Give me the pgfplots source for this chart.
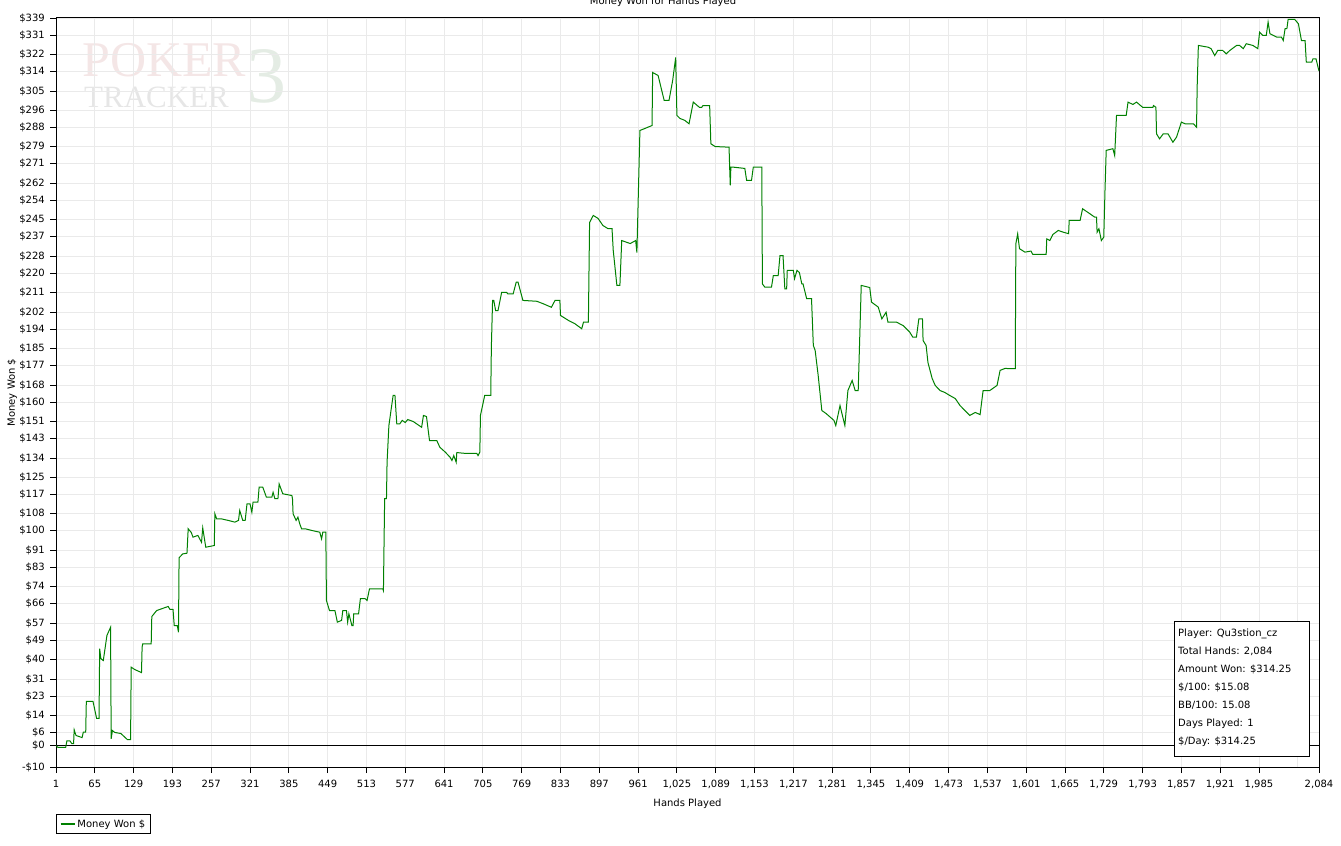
\documentclass[border=0pt]{standalone}
\usepackage{fontspec}
\setmainfont{DejaVu Sans}
\newfontfamily\wmfont{Liberation Serif}
\usepackage{pgfplots}
\pgfplotsset{compat=1.18}
\definecolor{moneygreen}{RGB}{0,128,0}
\definecolor{gridgrey}{RGB}{234,234,234}
\definecolor{wmpink}{RGB}{244,230,230}
\definecolor{wmgrey}{RGB}{230,230,230}
\definecolor{wmgreen}{RGB}{228,236,228}

\begin{document}
\begin{tikzpicture}[x=1bp,y=1bp,font=\fontsize{10bp}{12bp}\selectfont]
\useasboundingbox (0,0) rectangle (1341,845);

% watermark behind the plot
\node[anchor=base west, inner sep=0pt, text=wmgreen, font=\wmfont\fontsize{80bp}{80bp}\selectfont] at (246,742) {3};
\node[anchor=base west, inner sep=0pt, text height=34bp, text depth=0bp, text=wmpink, font=\wmfont\fontsize{50bp}{50bp}\selectfont] at (82,768) {POKER};
\node[anchor=base west, inner sep=0pt, text height=21bp, text depth=0bp, text=wmgrey, font=\wmfont\fontsize{31bp}{31bp}\selectfont] at (84,737) {TRACKER};

% title, cut at the top edge as in the original
\node[anchor=base] at (663,840) {Money Won for Hands Played};

\begin{axis}[
  at={(56bp,78bp)}, anchor=south west,
  scale only axis, width=1263bp, height=749bp,
  xmin=1, xmax=2084, ymin=-10, ymax=339,
  axis line style={black, line width=1bp},
  tick align=outside, tick pos=left, major tick length=6bp,
  tick style={black, line width=0.9bp},
  grid=major, major grid style={gridgrey, line width=0.9bp},
  xtick={1,65,129,193,257,321,385,449,513,577,641,705,769,833,897,961,1025,1089,1153,1217,1281,1345,1409,1473,1537,1601,1665,1729,1793,1857,1921,1985,2084},
  xticklabels={1,65,129,193,257,321,385,449,513,577,641,705,769,833,897,961,{1,025},{1,089},{1,153},{1,217},{1,281},{1,345},{1,409},{1,473},{1,537},{1,601},{1,665},{1,729},{1,793},{1,857},{1,921},{1,985},{2,084}},
  extra x ticks={2049}, extra x tick labels={},
  extra x tick style={major tick length=0pt, grid=major},
  ytick={-10,0,6,14,23,31,40,49,57,66,74,83,91,100,108,117,125,134,143,151,160,168,177,185,194,202,211,220,228,237,245,254,262,271,279,288,296,305,314,322,331,339},
  yticklabels={-\$10,\$0,\$6,\$14,\$23,\$31,\$40,\$49,\$57,\$66,\$74,\$83,\$91,\$100,\$108,\$117,\$125,\$134,\$143,\$151,\$160,\$168,\$177,\$185,\$194,\$202,\$211,\$220,\$228,\$237,\$245,\$254,\$262,\$271,\$279,\$288,\$296,\$305,\$314,\$322,\$331,\$339},
  xticklabel style={inner sep=0pt, yshift=-7bp},
  yticklabel style={inner sep=0pt, xshift=-5bp},
  xlabel={Hands Played},
  xlabel style={at={(axis description cs:0.5,0)}, anchor=center, yshift=-37bp},
  ylabel={Money Won \$},
  ylabel style={at={(axis description cs:-0.0348,0.5)}, anchor=center},
  legend style={at={(axis description cs:0,0)}, anchor=north west, yshift=-47bp,
    draw=black, line width=1bp, inner sep=3bp,
    font=\fontsize{10bp}{12bp}\selectfont},
  legend cell align=left,
  legend image code/.code={\draw[#1, line width=2bp] (0bp,0bp) -- (14bp,0bp);},
]
\draw[black, line width=1bp] (axis cs:1,0) -- (axis cs:2084,0);

\addplot[moneygreen, line width=1bp] coordinates {
(1,0) (4,-0.8) (17,-0.8) (19,2.2) (24,2.2) (27,0.9) (30,0.9) (31,7.3) (34,4.7) (44,3.7)
(46,6.2) (50,6.2) (51,20.6) (62,20.6) (68,12.6) (72,12.6) (73,45.1) (75,40.5) (79,39.6) (85,51.3)
(91,55.1) (92,3.1) (94,7.0) (98,6.1) (108,5.6) (119,2.7) (124,2.7) (125,36.5) (131,35.4) (142,34.0)
(143,45.8) (144,47.4) (158,47.4) (159,60.1) (167,62.9) (186,64.8) (189,63.4) (194,63.4) (196,55.9) (201,55.9)
(203,52.8) (204,87.5) (210,89.3) (217,89.6) (219,101.0) (224,99.3) (227,97.1) (235,97.9) (241,94.7) (243,101.4)
(248,92.4) (262,93.2) (263,108.0) (266,105.6) (274,105.6) (285,104.9) (296,104.1) (302,104.9) (304,109.5) (309,104.9)
(313,104.9) (316,112.6) (321,112.6) (324,108.7) (326,113.4) (334,113.4) (336,120.4) (342,120.4) (348,115.7) (357,115.7)
(359,118.0) (362,115.0) (367,115.0) (369,121.9) (375,117.3) (390,116.5) (391,115.0) (392,108.0) (397,104.9) (400,106.4)
(403,103.3) (406,101.0) (412,101.0) (423,100.2) (436,99.4) (439,96.3) (441,99.4) (446,99.4) (447,67.6) (452,62.9)
(461,62.9) (465,57.5) (472,58.3) (474,62.9) (480,62.9) (482,57.5) (484,61.4) (489,55.9) (491,55.9) (492,61.4)
(500,61.4) (503,68.4) (511,68.4) (514,67.6) (518,73.0) (540,73.0) (541,72.2) (542,94.0) (543,115.0) (546,115.0)
(547,132.0) (550,149.1) (555,159.2) (557,163.1) (560,163.1) (563,149.9) (568,149.9) (572,151.5) (577,150.5) (581,151.9)
(590,151.0) (604,148.3) (607,153.8) (612,153.3) (617,142.1) (629,142.1) (634,139.0) (643,136.7) (651,134.3) (654,132.8)
(657,135.1) (661,132.0) (662,136.5) (677,136.1) (695,136.1) (697,135.1) (700,136.7) (701,153.8) (708,163.1) (718,163.1)
(719,185.6) (721,207.4) (723,207.4) (726,202.7) (730,202.7) (736,211.2) (744,211.2) (746,210.5) (755,210.5) (760,215.9)
(763,215.9) (771,207.4) (794,207.0) (805,205.8) (818,204.2) (824,207.4) (832,207.4) (833,200.4) (846,198.1) (857,196.5)
(868,194.2) (871,197.3) (879,197.3) (881,243.7) (887,247.0) (895,245.6) (903,242.3) (911,240.9) (918,240.9) (920,230.7)
(926,214.4) (931,214.4) (934,235.3) (948,233.9) (957,235.3) (959,229.7) (964,286.6) (972,287.5) (984,288.9) (985,313.6)
(994,312.2) (1000,305.2) (1004,300.6) (1012,300.6) (1018,309.9) (1023,320.6) (1025,293.6) (1030,292.2) (1038,291.3) (1045,289.7)
(1052,299.8) (1062,297.4) (1066,297.4) (1068,298.2) (1079,298.2) (1081,280.4) (1088,279.1) (1111,278.8) (1112,269.5) (1113,261.0)
(1114,269.5) (1118,269.5) (1137,268.9) (1140,263.3) (1148,263.3) (1151,269.5) (1165,269.5) (1166,215.1) (1170,213.6) (1181,213.6)
(1184,219.0) (1192,219.0) (1195,228.3) (1200,228.3) (1203,212.8) (1206,212.8) (1207,221.4) (1217,221.4) (1219,217.5) (1223,221.4)
(1227,220.4) (1231,215.1) (1233,215.1) (1239,208.2) (1247,208.2) (1250,186.4) (1253,184.1) (1258,172.4) (1264,156.1) (1271,154.7)
(1284,151.5) (1287,149.1) (1294,158.4) (1302,149.1) (1307,165.4) (1314,170.1) (1319,165.4) (1324,165.4) (1329,214.4) (1343,213.4)
(1346,206.6) (1357,204.3) (1363,198.8) (1370,201.9) (1373,197.3) (1387,197.3) (1398,195.7) (1409,192.6) (1414,190.3) (1420,190.3)
(1424,198.8) (1430,198.8) (1431,188.7) (1436,186.4) (1439,178.5) (1446,171.0) (1451,167.8) (1459,165.4) (1467,164.5) (1475,163.1)
(1484,161.7) (1492,158.4) (1500,156.1) (1508,153.8) (1517,155.2) (1525,154.2) (1530,165.4) (1541,165.4) (1553,167.8) (1558,174.8)
(1566,175.7) (1583,175.6) (1584,233.8) (1587,238.4) (1590,231.5) (1599,229.9) (1609,230.4) (1612,228.8) (1634,228.8) (1635,236.1)
(1640,235.3) (1645,238.1) (1654,240.0) (1662,239.2) (1671,238.5) (1672,244.7) (1690,244.7) (1694,250.1) (1706,247.8) (1714,246.2)
(1717,246.2) (1718,239.2) (1721,240.8) (1725,235.3) (1729,236.9) (1731,258.6) (1733,277.3) (1744,278.1) (1747,274.9) (1750,293.6)
(1766,293.6) (1769,299.8) (1777,298.7) (1783,299.8) (1793,297.4) (1810,297.4) (1811,298.2) (1815,297.4) (1816,285.0) (1821,282.7)
(1827,285.0) (1835,285.0) (1843,281.1) (1849,283.5) (1857,290.5) (1863,289.7) (1877,289.7) (1882,288.1) (1883,306.8) (1885,326.2)
(1901,325.4) (1906,324.7) (1912,321.5) (1917,323.9) (1925,323.9) (1931,322.3) (1937,323.9) (1948,326.2) (1953,326.2) (1959,324.7)
(1964,327.0) (1975,326.2) (1983,324.7) (1986,332.4) (1991,330.9) (1997,330.9) (2000,337.1) (2003,331.7) (2014,330.1) (2022,330.1)
(2025,328.5) (2028,334.0) (2031,334.0) (2033,338.3) (2044,338.3) (2050,336.3) (2055,328.5) (2061,328.5) (2063,318.4) (2072,318.4)
(2074,320.0) (2079,320.0) (2083,315.3) (2084,314.25)
};
\addlegendentry{Money Won \$}
\end{axis}

% player summary box
\draw[black, line width=1bp, fill=white] (1174,89) rectangle (1309,223);
\begin{scope}[every node/.style={anchor=west, inner sep=0pt, text height=7.5bp, text depth=2bp}]
\node at (1178,211) {Player: Qu3stion\_cz};
\node at (1178,193) {Total Hands: 2,084};
\node at (1178,175) {Amount Won: \$314.25};
\node at (1178,157) {\$/100: \$15.08};
\node at (1178,139) {BB/100: 15.08};
\node at (1178,121) {Days Played: 1};
\node at (1178,103) {\$/Day: \$314.25};
\end{scope}
\end{tikzpicture}
\end{document}
